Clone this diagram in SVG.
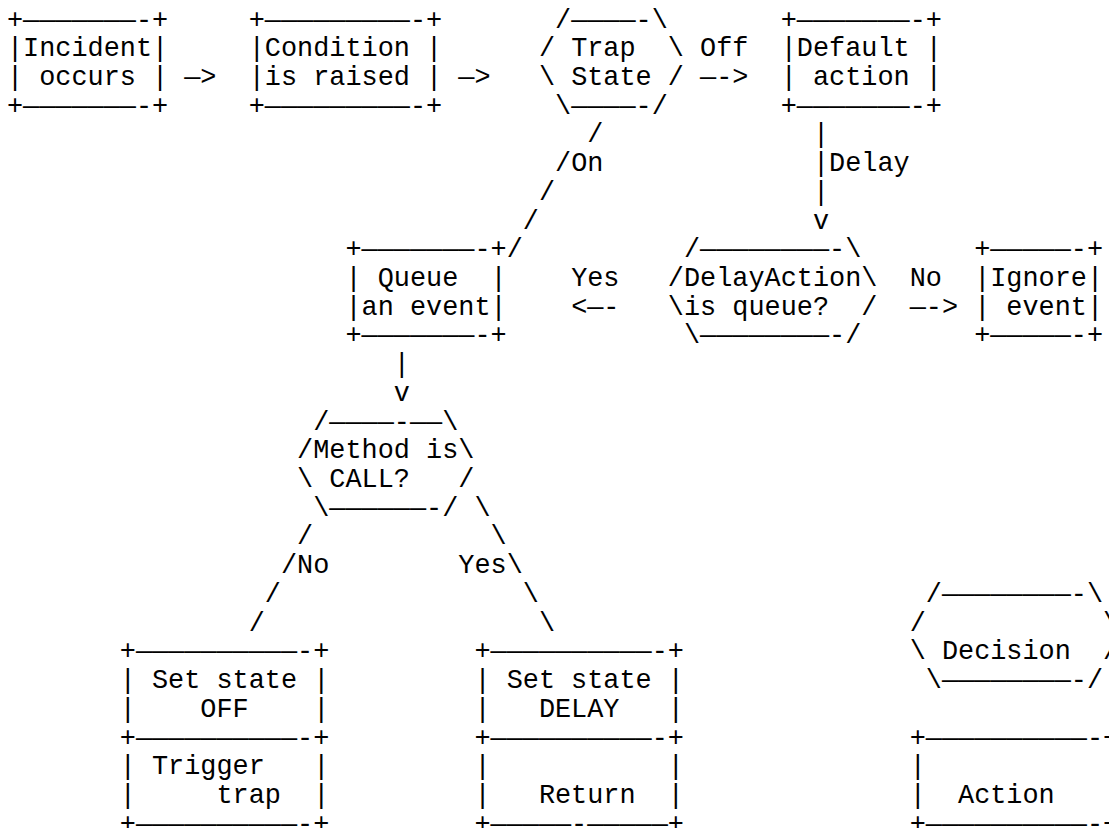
<svg xmlns="http://www.w3.org/2000/svg" width="1109" height="828" viewBox="0 0 1109 828" xml:space="preserve">
<style>
text{font-family:"Liberation Mono","Courier New",monospace;font-size:26.87px;fill:#000;white-space:pre}
</style>
<rect width="1109" height="828" fill="#fff"/>
<g id="incident"><text><tspan x="6.94" y="27.5">+———————-+</tspan><tspan x="6.94" y="56.22">|Incident|</tspan><tspan x="6.94" y="84.94">| occurs |</tspan><tspan x="6.94" y="113.66">+———————-+</tspan></text></g>
<g id="condition"><text><tspan x="248.74" y="27.5">+—————————-+</tspan><tspan x="248.74" y="56.22">|Condition |</tspan><tspan x="248.74" y="84.94">|is raised |</tspan><tspan x="248.74" y="113.66">+—————————-+</tspan></text></g>
<g id="trap"><text><tspan x="555.02" y="27.5">/————-\</tspan><tspan x="538.90" y="56.22">/ Trap  \</tspan><tspan x="538.90" y="84.94">\ State /</tspan><tspan x="555.02" y="113.66">\————-/</tspan></text></g>
<g id="default"><text><tspan x="780.70" y="27.5">+———————-+</tspan><tspan x="780.70" y="56.22">|Default |</tspan><tspan x="780.70" y="84.94">| action |</tspan><tspan x="780.70" y="113.66">+———————-+</tspan></text></g>
<g id="queue"><text><tspan x="345.46" y="257.26">+———————-+</tspan><tspan x="345.46" y="285.98">| Queue  |</tspan><tspan x="345.46" y="314.70">|an event|</tspan><tspan x="345.46" y="343.42">+———————-+</tspan></text></g>
<g id="delayaction"><text><tspan x="683.98" y="257.26">/————————-\</tspan><tspan x="667.86" y="285.98">/DelayAction\</tspan><tspan x="667.86" y="314.70">\is queue?  /</tspan><tspan x="683.98" y="343.42">\————————-/</tspan></text></g>
<g id="ignore"><text><tspan x="974.14" y="257.26">+—————-+</tspan><tspan x="974.14" y="285.98">|Ignore|</tspan><tspan x="974.14" y="314.70">| event|</tspan><tspan x="974.14" y="343.42">+—————-+</tspan></text></g>
<g id="method"><text><tspan x="313.22" y="429.58">/————-——\</tspan><tspan x="297.10" y="458.30">/Method is\</tspan><tspan x="297.10" y="487.02">\ CALL?   /</tspan><tspan x="313.22" y="515.74">\——————-/</tspan></text></g>
<g id="setoff"><text><tspan x="119.78" y="659.34">+——————————-+</tspan><tspan x="119.78" y="688.06">| Set state |</tspan><tspan x="119.78" y="716.78">|    OFF    |</tspan><tspan x="119.78" y="745.50">+——————————-+</tspan><tspan x="119.78" y="774.22">| Trigger   |</tspan><tspan x="119.78" y="802.94">|     trap  |</tspan><tspan x="119.78" y="831.66">+——————————-+</tspan></text></g>
<g id="setdelay"><text><tspan x="474.42" y="659.34">+——————————-+</tspan><tspan x="474.42" y="688.06">| Set state |</tspan><tspan x="474.42" y="716.78">|   DELAY   |</tspan><tspan x="474.42" y="745.50">+——————————-+</tspan><tspan x="474.42" y="774.22">|           |</tspan><tspan x="474.42" y="802.94">|   Return  |</tspan><tspan x="474.42" y="831.66">+—————-—————+</tspan></text></g>
<g id="legend-decision"><text><tspan x="925.78" y="601.90">/————————-\</tspan><tspan x="909.66" y="630.62">/           \</tspan><tspan x="909.66" y="659.34">\ Decision  /</tspan><tspan x="925.78" y="688.06">\————————-/</tspan></text></g>
<g id="legend-action"><text><tspan x="909.66" y="745.50">+——————————-+</tspan><tspan x="909.66" y="774.22">|</tspan><tspan x="909.66" y="802.94">|  Action</tspan><tspan x="909.66" y="831.66">+——————————-+</tspan></text></g>
<g id="connectors">
<text x="184.26" y="84.94">—&gt;</text>
<text x="458.30" y="84.94">—&gt;</text>
<text x="700.10" y="56.22">Off</text>
<text x="700.10" y="84.94">—-&gt;</text>
<text><tspan x="587.26" y="142.38">/</tspan><tspan x="555.02" y="171.10">/On</tspan><tspan x="538.90" y="199.82">/</tspan><tspan x="522.78" y="228.54">/</tspan><tspan x="506.66" y="257.26">/</tspan></text>
<text><tspan x="812.94" y="142.38">|</tspan><tspan x="812.94" y="171.10">|Delay</tspan><tspan x="812.94" y="199.82">|</tspan><tspan x="812.94" y="228.54">v</tspan></text>
<text x="571.14" y="285.98">Yes</text>
<text x="571.14" y="314.70">&lt;—-</text>
<text x="909.66" y="285.98">No</text>
<text x="909.66" y="314.70">—-&gt;</text>
<text><tspan x="393.82" y="372.14">|</tspan><tspan x="393.82" y="400.86">v</tspan></text>
<text><tspan x="297.10" y="544.46">/</tspan><tspan x="280.98" y="573.18">/No</tspan><tspan x="264.86" y="601.90">/</tspan><tspan x="248.74" y="630.62">/</tspan></text>
<text><tspan x="474.42" y="515.74">\</tspan><tspan x="490.54" y="544.46">\</tspan><tspan x="458.30" y="573.18">Yes\</tspan><tspan x="522.78" y="601.90">\</tspan><tspan x="538.90" y="630.62">\</tspan></text>
</g>
</svg>
